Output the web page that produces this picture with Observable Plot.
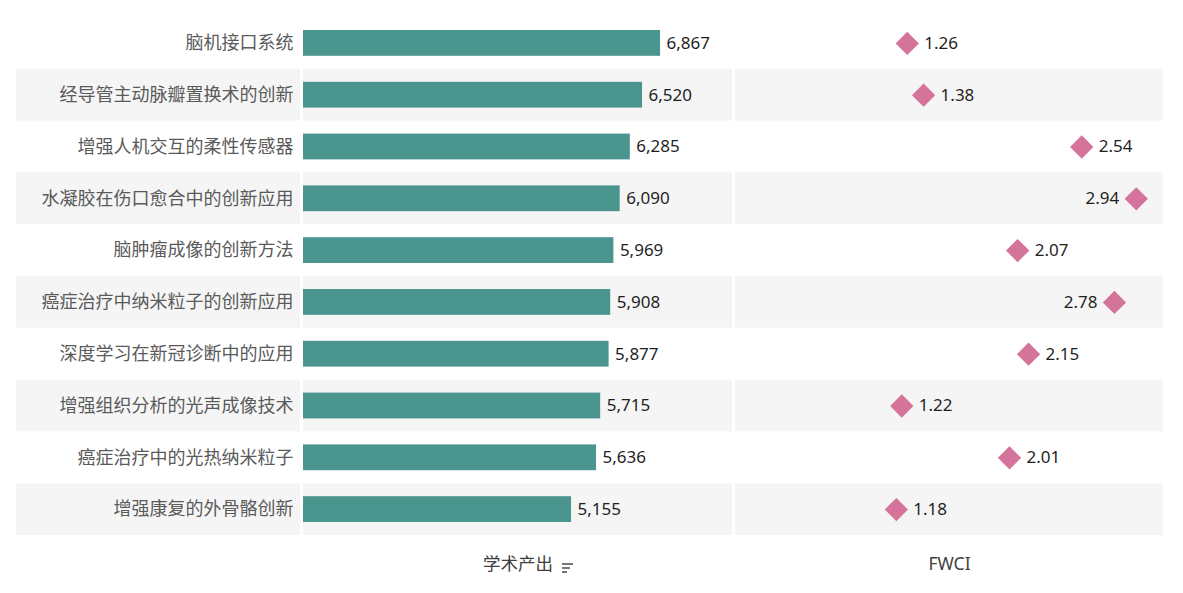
<!DOCTYPE html>
<html>
<head>
<meta charset="utf-8">
<script src="https://cdn.jsdelivr.net/npm/d3@7"></script>
<script src="https://cdn.jsdelivr.net/npm/@observablehq/plot@0.6"></script>
<style>
  html, body { margin: 0; padding: 0; background: #fff; }
  #wrap { position: relative; width: 1183px; height: 593px; overflow: hidden; font-family: 'Noto Sans', 'Noto Sans CJK SC', sans-serif; }
  .panel { position: absolute; top: 0; }
  #sorticon { position: absolute; left: 561px; top: 561px; }
</style>
</head>
<body>
<div id="wrap"></div>
<script>
// ---- data ----
const topics = [
  "脑机接口系统",
  "经导管主动脉瓣置换术的创新",
  "增强人机交互的柔性传感器",
  "水凝胶在伤口愈合中的创新应用",
  "脑肿瘤成像的创新方法",
  "癌症治疗中纳米粒子的创新应用",
  "深度学习在新冠诊断中的应用",
  "增强组织分析的光声成像技术",
  "癌症治疗中的光热纳米粒子",
  "增强康复的外骨骼创新"
];
const output = [6867, 6520, 6285, 6090, 5969, 5908, 5877, 5715, 5636, 5155];
const fwci = [1.26, 1.38, 2.54, 2.94, 2.07, 2.78, 2.15, 1.22, 2.01, 1.18];
const outputTitle = "学术产出";
const fwciTitle = "FWCI";

const rows = topics.map((t, i) => ({topic: t, output: output[i], fwci: fwci[i], shade: i % 2 === 1}));
const shaded = rows.filter(d => d.shade);

const H = 593, MT = 17, MB = 58;
const font = "'Noto Sans', 'Noto Sans CJK SC', sans-serif";
const band = "#f5f5f5";
const outMax = 8250, fwciMax = 3.14;
const fmt = d3.format(",");
const fmt2 = d3.format(".2f");

const common = {
  height: H, marginTop: MT, marginBottom: MB,
  y: {domain: topics, axis: null, padding: 0, round: false},
  style: {fontFamily: font, background: "transparent", overflow: "visible"}
};

// label column
const pA = Plot.plot({
  ...common, width: 301, marginLeft: 16, marginRight: 1,
  x: {domain: [0, 1], axis: null},
  marks: [
    Plot.barX(shaded, {x1: 0, x2: 1, y: "topic", fill: band}),
    Plot.text(rows, {x: 1, y: "topic", text: "topic", textAnchor: "end", dx: -7, fontSize: 18, fill: "#5a5a5a"})
  ]
});

// output column
const pB = Plot.plot({
  ...common, width: 434, marginLeft: 2, marginRight: 3,
  x: {domain: [0, outMax], axis: null},
  marks: [
    Plot.barX(shaded, {x1: 0, x2: outMax, y: "topic", fill: band}),
    Plot.barX(rows, {x: "output", y: "topic", fill: "#4a968e", insetTop: 13, insetBottom: 13}),
    Plot.text(rows, {x: "output", y: "topic", text: d => fmt(d.output), textAnchor: "start", dx: 6, fontSize: 17, fill: "#1f1f1f"}),
    Plot.text([outputTitle], {frameAnchor: "bottom", dy: 34, text: d => d, fontSize: 17.5, fill: "#404040"})
  ]
});

// FWCI column
const flip = v => v > fwciMax * 0.86;
const pC = Plot.plot({
  ...common, width: 449, marginLeft: 1, marginRight: 20,
  x: {domain: [0, fwciMax], axis: null},
  marks: [
    Plot.barX(shaded, {x1: 0, x2: fwciMax, y: "topic", fill: band}),
    Plot.dot(rows, {x: "fwci", y: "topic", symbol: "diamond2", r: 10.5, fill: "#d4749a", stroke: null}),
    Plot.text(rows.filter(d => !flip(d.fwci)), {x: "fwci", y: "topic", text: d => fmt2(d.fwci), textAnchor: "start", dx: 17, fontSize: 17, fill: "#1f1f1f"}),
    Plot.text(rows.filter(d => flip(d.fwci)), {x: "fwci", y: "topic", text: d => fmt2(d.fwci), textAnchor: "end", dx: -17, fontSize: 17, fill: "#1f1f1f"}),
    Plot.text([fwciTitle], {frameAnchor: "bottom", dy: 34, text: d => d, fontSize: 17.5, fill: "#404040"})
  ]
});

const wrap = document.getElementById("wrap");
[[pA, 0], [pB, 301], [pC, 734]].forEach(([p, left]) => {
  p.classList.add("panel");
  p.style.left = left + "px";
  wrap.appendChild(p);
});

// sort icon next to the output title
const icon = document.createElementNS("http://www.w3.org/2000/svg", "svg");
icon.setAttribute("id", "sorticon");
icon.setAttribute("width", "14");
icon.setAttribute("height", "14");
[[2, 11], [6, 8], [10, 5]].forEach(([y, w]) => {
  const l = document.createElementNS("http://www.w3.org/2000/svg", "line");
  l.setAttribute("x1", 1); l.setAttribute("x2", 1 + w);
  l.setAttribute("y1", y + 1); l.setAttribute("y2", y + 1);
  l.setAttribute("stroke", "#555"); l.setAttribute("stroke-width", "1.6");
  icon.appendChild(l);
});
wrap.appendChild(icon);
</script>
</body>
</html>
